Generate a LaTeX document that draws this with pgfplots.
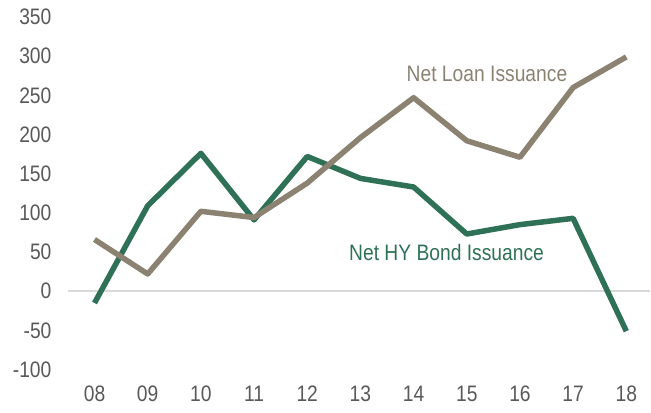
\documentclass[border=0pt]{standalone}
\usepackage{fontspec}
\setmainfont{Liberation Sans}[FakeStretch=0.86]
\usepackage{pgfplots}
\pgfplotsset{compat=1.18}
\definecolor{loan}{HTML}{8B8272}
\definecolor{hy}{HTML}{2E7157}
\definecolor{tick}{HTML}{595959}
\begin{document}
\begin{tikzpicture}
\begin{axis}[
  scale only axis,
  width=583bp, height=353bp,
  xmin=-0.5, xmax=10.45,
  ymin=-100, ymax=350,
  xtick={0,...,10},
  xticklabels={08,09,10,11,12,13,14,15,16,17,18},
  ytick={-100,-50,...,350},
  axis line style={draw=none},
  tick style={draw=none},
  /pgf/number format/assume math mode=true,
  ticklabel style={font=\fontsize{22.5}{25}\selectfont, text=tick},
  yticklabel style={xshift=-13bp},
  xticklabel style={yshift=-13bp},
  clip=false,
  line join=round,
]
\addplot[draw=black!15, line width=1.5bp, forget plot] coordinates {(-0.5,0) (10.45,0)};
\addplot[hy, line width=5.5bp] coordinates {
(0,-15) (1,109) (2,176) (3,91) (4,172) (5,144) (6,133) (7,73) (8,85) (9,93) (10,-51)};
\addplot[loan, line width=5.5bp] coordinates {
(0,66) (1,22) (2,102) (3,94) (4,138) (5,196) (6,247) (7,192) (8,171) (9,260) (10,299)};
\node[text=loan, font=\fontsize{22.5}{25}\selectfont] at (axis cs:7.38,277) {Net Loan Issuance};
\node[text=hy, font=\fontsize{22.5}{25}\selectfont] at (axis cs:6.62,50) {Net HY Bond Issuance};
\end{axis}
\path ([xshift=-68bp,yshift=-43bp]current axis.south west) rectangle ([yshift=17bp]current axis.north east);
\end{tikzpicture}
\end{document}
